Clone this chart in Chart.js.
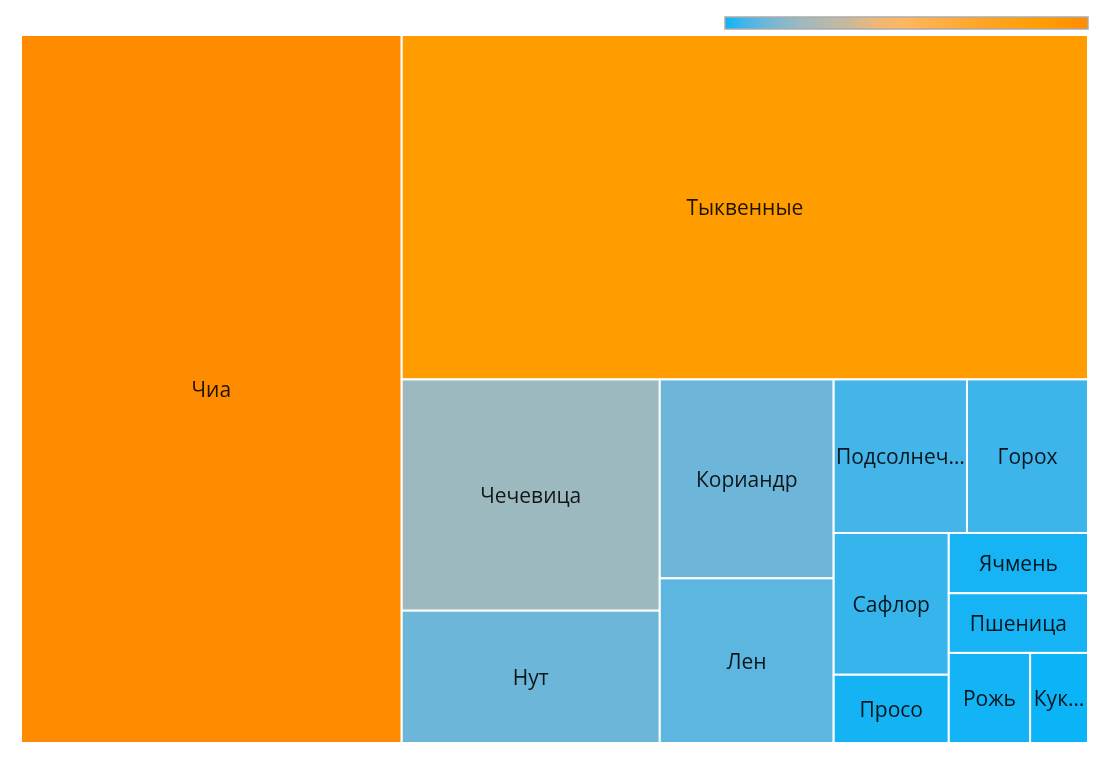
<!DOCTYPE html>
<html>
<head>
<meta charset="utf-8">
<script src="https://cdn.jsdelivr.net/npm/chart.js@4.4.1/dist/chart.umd.min.js"></script>
<style>
  html, body { margin: 0; padding: 0; background: #ffffff; }
  #wrap { width: 1110px; height: 768px; }
</style>
</head>
<body>
<div id="wrap"><canvas id="c" width="1110" height="768"></canvas></div>
<script>
// ---- data ----
const categories = ['Чиа', 'Тыквенные', 'Чечевица', 'Нут', 'Кориандр', 'Лен', 'Подсолнечник', 'Горох', 'Сафлор', 'Просо', 'Ячмень', 'Пшеница', 'Рожь', 'Кукуруза'];
const values = [356.8, 312.9, 79.0, 45.2, 45.8, 37.9, 27.1, 24.6, 21.6, 10.4, 11.1, 11.0, 9.7, 6.9];

// ---- colour scale (min -> max of values) ----
const colorStops = [0, 0.05, 0.11, 0.207, 0.34, 0.425, 0.5, 0.7, 0.87, 1];
const colorRGB = [[10,180,247],[62,181,234],[108,182,217],[157,185,192],[201,185,154],[240,184,115],[255,182,95],[255,165,40],[255,158,0],[255,140,0]];

function colorAt(t) {
  t = Math.max(0, Math.min(1, t));
  for (let i = 1; i < colorStops.length; i++) {
    if (t <= colorStops[i]) {
      const f = (t - colorStops[i-1]) / (colorStops[i] - colorStops[i-1]);
      const a = colorRGB[i-1], b = colorRGB[i];
      return 'rgb(' + a.map((v, k) => Math.round(v + (b[k] - v) * f)).join(',') + ')';
    }
  }
  const l = colorRGB[colorRGB.length - 1];
  return 'rgb(' + l.join(',') + ')';
}

const vMin = Math.min(...values), vMax = Math.max(...values);

// binary treemap layout in value space of the chart's scales
function layout(idx, x0, y0, x1, y1, xs, ys, out) {
  if (idx.length === 1) { out.push({ i: idx[0], x0, y0, x1, y1 }); return; }
  const total = idx.reduce((s, i) => s + values[i], 0);
  const half = total / 2;
  let k = 1, acc = values[idx[0]];
  while (k < idx.length - 1 && acc + values[idx[k]] <= half) { acc += values[idx[k]]; k++; }
  const left = idx.slice(0, k), right = idx.slice(k);
  const frac = acc / total;
  const pw = Math.abs(xs.getPixelForValue(x1) - xs.getPixelForValue(x0));
  const ph = Math.abs(ys.getPixelForValue(y1) - ys.getPixelForValue(y0));
  if (pw > ph) {
    const xm = x0 + (x1 - x0) * frac;
    layout(left, x0, y0, xm, y1, xs, ys, out);
    layout(right, xm, y0, x1, y1, xs, ys, out);
  } else {
    const ym = y0 + (y1 - y0) * frac;
    layout(left, x0, y0, x1, ym, xs, ys, out);
    layout(right, x0, ym, x1, y1, xs, ys, out);
  }
}

const FONT = '21px "Open Sans", "Noto Sans", sans-serif';

function fitLabel(ctx, text, maxW) {
  if (ctx.measureText(text).width <= maxW) return text;
  let s = text;
  while (s.length > 1 && ctx.measureText(s + '…').width > maxW) s = s.slice(0, -1);
  return s + '…';
}

const treemapPlugin = {
  id: 'treemapCells',
  afterDatasetsDraw(chart) {
    const ctx = chart.ctx;
    const xs = chart.scales.x, ys = chart.scales.y;
    const cells = [];
    layout(values.map((_, i) => i), xs.min, ys.min, xs.max, ys.max, xs, ys, cells);
    ctx.save();
    cells.forEach(c => {
      const px0 = xs.getPixelForValue(c.x0), px1 = xs.getPixelForValue(c.x1);
      const py0 = ys.getPixelForValue(c.y0), py1 = ys.getPixelForValue(c.y1);
      const l = Math.min(px0, px1), r = Math.max(px0, px1);
      const t = Math.min(py0, py1), b = Math.max(py0, py1);
      ctx.fillStyle = colorAt((values[c.i] - vMin) / (vMax - vMin));
      ctx.fillRect(l, t, r - l, b - t);
      ctx.strokeStyle = '#ffffff';
      ctx.lineWidth = 2;
      ctx.strokeRect(l, t, r - l, b - t);
      ctx.font = FONT;
      ctx.fillStyle = 'rgba(0,0,0,0.88)';
      ctx.textAlign = 'center';
      ctx.textBaseline = 'middle';
      const label = fitLabel(ctx, categories[c.i], r - l - 2);
      ctx.fillText(label, (l + r) / 2, (t + b) / 2 + 2);
    });
    // colour scale bar
    const bx = 725, by = 17, bw = 363, bh = 12;
    const g = ctx.createLinearGradient(bx, 0, bx + bw, 0);
    colorStops.forEach((s, i) => g.addColorStop(s, 'rgb(' + colorRGB[i].join(',') + ')'));
    ctx.fillStyle = g;
    ctx.fillRect(bx, by, bw, bh);
    ctx.strokeStyle = '#aaaaaa';
    ctx.lineWidth = 1.5;
    ctx.strokeRect(bx, by, bw, bh);
    ctx.restore();
  }
};

new Chart(document.getElementById('c'), {
  type: 'scatter',
  data: { datasets: [{ data: [], pointRadius: 0 }] },
  options: {
    responsive: false,
    animation: false,
    devicePixelRatio: 1,
    layout: { padding: { left: 21, right: 22, top: 35, bottom: 25 } },
    scales: {
      x: { type: 'linear', min: 0, max: 100, display: false },
      y: { type: 'linear', min: 0, max: 100, reverse: true, display: false }
    },
    plugins: { legend: { display: false }, tooltip: { enabled: false } }
  },
  plugins: [treemapPlugin]
});
</script>
</body>
</html>
